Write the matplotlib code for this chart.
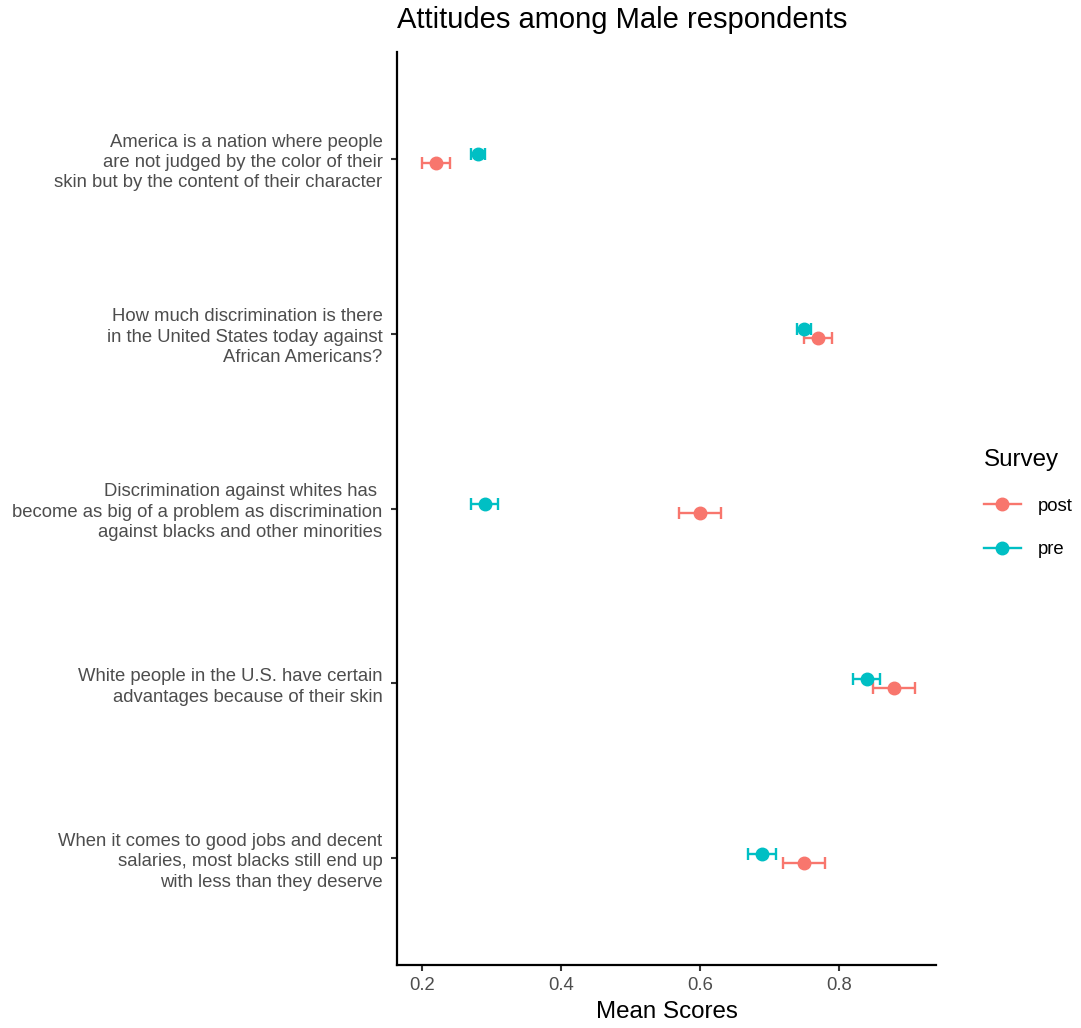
import numpy as np
import matplotlib.pyplot as plt
from matplotlib.lines import Line2D

plt.rcParams['font.family'] = ['Liberation Sans', 'DejaVu Sans']

questions = [
    "America is a nation where people\nare not judged by the color of their\nskin but by the content of their character",
    "How much discrimination is there\nin the United States today against\nAfrican Americans?",
    "Discrimination against whites has \nbecome as big of a problem as discrimination\nagainst blacks and other minorities",
    "White people in the U.S. have certain\nadvantages because of their skin",
    "When it comes to good jobs and decent\nsalaries, most blacks still end up\nwith less than they deserve",
]
post_mean = [0.22, 0.77, 0.60, 0.88, 0.75]
post_err = [0.02, 0.02, 0.03, 0.03, 0.03]
pre_mean = [0.28, 0.75, 0.29, 0.84, 0.69]
pre_err = [0.01, 0.01, 0.02, 0.02, 0.02]

col_post = "#F8766D"
col_pre = "#00BFC4"

fig = plt.figure(figsize=(10.81, 10.28), dpi=100)
ax = fig.add_axes([397 / 1081, 63 / 1028, 539 / 1081, 913 / 1028])

ypos = np.arange(len(questions))[::-1] + 1.0
dodge = 0.027

ax.errorbar(post_mean, ypos - dodge, xerr=post_err, fmt='o', color=col_post,
            ms=9, elinewidth=1.7, capsize=4.6, capthick=1.7)
ax.errorbar(pre_mean, ypos + dodge, xerr=pre_err, fmt='o', color=col_pre,
            ms=9, elinewidth=1.7, capsize=4.6, capthick=1.7)

ax.set_ylim(0.39, 5.61)
ax.set_xlim(0.164, 0.94)
ax.set_xticks([0.2, 0.4, 0.6, 0.8])
ax.set_xticklabels(["0.2", "0.4", "0.6", "0.8"])
ax.set_yticks(ypos)
ax.set_yticklabels(questions, ha='right', linespacing=1.26)
ax.tick_params(axis='both', labelsize=13.3, labelcolor='#4D4D4D', color='#333333',
               length=4.5, width=1.5)
ax.tick_params(axis='y', pad=6)
ax.tick_params(axis='x', pad=4)

for side in ['top', 'right']:
    ax.spines[side].set_visible(False)
for side in ['left', 'bottom']:
    ax.spines[side].set_linewidth(1.6)

ax.set_xlabel("Mean Scores", fontsize=17.4, labelpad=5)
fig.text(397 / 1081, 1 - 20 / 1028, "Attitudes among Male respondents",
         fontsize=21, ha='left', va='center')

handles = [
    Line2D([], [], color=col_post, marker='o', ms=9, lw=1.7),
    Line2D([], [], color=col_pre, marker='o', ms=9, lw=1.7),
]
leg = fig.legend(handles, ["post", "pre"], title="Survey", loc='upper left',
                 bbox_to_anchor=(969 / 1081, 1 - 434 / 1028), frameon=False,
                 fontsize=13.3, title_fontsize=17.4, alignment='left',
                 handlelength=2.0, labelspacing=1.45, handletextpad=0.9,
                 borderpad=0.3)

fig.savefig("out.png", dpi=100)
